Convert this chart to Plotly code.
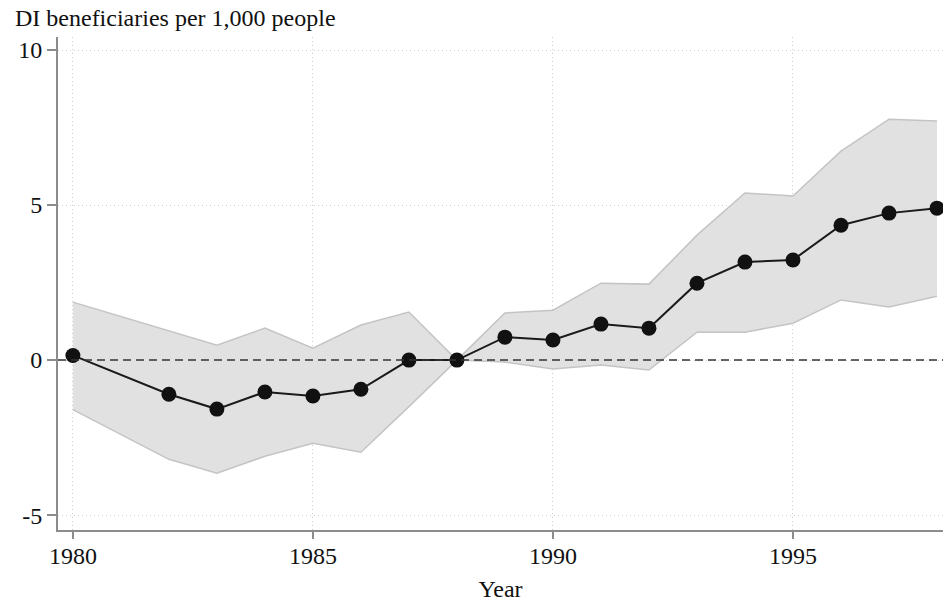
import plotly.graph_objects as go

# Event-study estimates: DI beneficiaries per 1,000 people, by year (1988 = reference year)
years = [1980, 1982, 1983, 1984, 1985, 1986, 1987, 1988, 1989,
         1990, 1991, 1992, 1993, 1994, 1995, 1996, 1997, 1998]
estimate = [0.15, -1.10, -1.58, -1.03, -1.16, -0.94, 0.0, 0.0, 0.74,
            0.65, 1.16, 1.03, 2.48, 3.16, 3.23, 4.35, 4.74, 4.90]
ci_upper = [1.87, 0.94, 0.48, 1.03, 0.38, 1.13, 1.55, 0.0, 1.52,
            1.61, 2.48, 2.45, 4.03, 5.39, 5.29, 6.74, 7.77, 7.71]
ci_lower = [-1.60, -3.20, -3.65, -3.10, -2.68, -2.97, -1.50, 0.0, -0.06,
            -0.29, -0.16, -0.32, 0.90, 0.90, 1.19, 1.94, 1.71, 2.06]

x_ticks = [1980, 1985, 1990, 1995]
y_ticks = [-5, 0, 5, 10]

serif = "Liberation Serif, Times New Roman, serif"
axis_grey = "#8c8c8c"
grid_grey = "#cfcfcf"

fig = go.Figure()

# Confidence band
fig.add_trace(go.Scatter(
    x=years, y=ci_upper, mode="lines",
    line=dict(color="#c4c4c4", width=1.5),
    hoverinfo="skip", showlegend=False,
))
fig.add_trace(go.Scatter(
    x=years, y=ci_lower, mode="lines",
    line=dict(color="#c4c4c4", width=1.5),
    fill="tonexty", fillcolor="#e1e1e1",
    hoverinfo="skip", showlegend=False,
))

# Zero reference line
fig.add_shape(type="line", xref="paper", x0=0, x1=1, yref="y", y0=0, y1=0,
              line=dict(color="#333333", width=1.5, dash="8px,5px"), layer="above")

# Point estimates
fig.add_trace(go.Scatter(
    x=years, y=estimate, mode="lines+markers",
    line=dict(color="#1a1a1a", width=2),
    marker=dict(color="#111111", size=15),
    showlegend=False,
))

fig.add_annotation(
    text="DI beneficiaries per 1,000 people",
    xref="paper", yref="paper", x=-0.051, y=1.038,
    xanchor="left", yanchor="middle", showarrow=False,
    font=dict(family=serif, size=24, color="#111111"),
)

fig.update_layout(
    width=943, height=604,
    margin=dict(l=58, r=0, t=37, b=74),
    paper_bgcolor="white", plot_bgcolor="white",
    font=dict(family=serif, size=24, color="#111111"),
    xaxis=dict(
        range=[1979.69, 1998.125],
        tickvals=x_ticks, ticktext=[str(v) for v in x_ticks],
        showline=True, linecolor=axis_grey, linewidth=2,
        ticks="outside", ticklen=7, tickcolor=axis_grey, tickwidth=1.5,
        ticklabelstandoff=-4,
        showgrid=True, gridcolor=grid_grey, griddash="1px,3px", gridwidth=1,
        zeroline=False,
        title=dict(text="Year", font=dict(family=serif, size=24), standoff=12),
    ),
    yaxis=dict(
        range=[-5.48, 10.42],
        tickvals=y_ticks, ticktext=[str(v) for v in y_ticks],
        showline=True, linecolor=axis_grey, linewidth=2,
        ticks="outside", ticklen=9, tickcolor=axis_grey, tickwidth=1.5,
        showgrid=True, gridcolor=grid_grey, griddash="1px,3px", gridwidth=1,
        zeroline=False,
    ),
)

fig.write_html("out.html")
